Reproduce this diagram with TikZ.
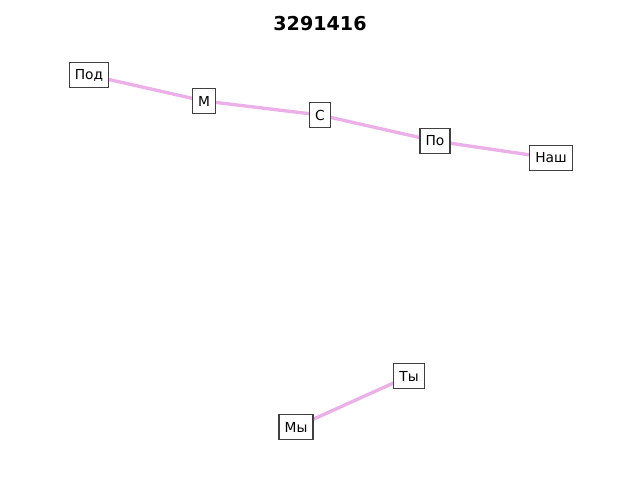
\documentclass[tikz,border=0pt]{standalone}
\usepackage{fontspec}
\setmainfont{DejaVu Sans}
\usepackage{xcolor}
\usetikzlibrary{positioning,backgrounds}
\definecolor{edgepink}{RGB}{235,176,232}
\definecolor{boxgray}{RGB}{64,64,64}
\tikzstyle{word} = [rectangle, draw=boxgray, line width=0.8pt, fill=white, inner xsep=4pt, inner ysep=0pt, minimum height=17.5pt, font=\fontsize{9.8}{10}\selectfont]
\tikzstyle{link} = [edgepink, line width=2.4pt]

\begin{document}
\begin{tikzpicture}[x=0.025cm, y=-0.025cm]
\useasboundingbox (0,0) rectangle (640,480);
\draw (320,24) node (title) {\fontsize{13.6}{14}\selectfont\bfseries 3291416};
\draw (89,75) node (pod) [word] {Под};
\draw (204,101) node (m) [word] {М};
\draw (320,115) node (s) [word] {С};
\draw (435,141) node (po) [word] {По};
\draw (551,158) node (nash) [word] {Наш};
\draw (409,376) node (ty) [word] {Ты};
\draw (296,427) node (my) [word] {Мы};
\begin{scope}[on background layer]
\draw [link] (pod.center)--(m.center);
\draw [link] (m.center)--(s.center);
\draw [link] (s.center)--(po.center);
\draw [link] (po.center)--(nash.center);
\draw [link] (my.center)--(ty.center);
\end{scope}
\end{tikzpicture}
\end{document}
